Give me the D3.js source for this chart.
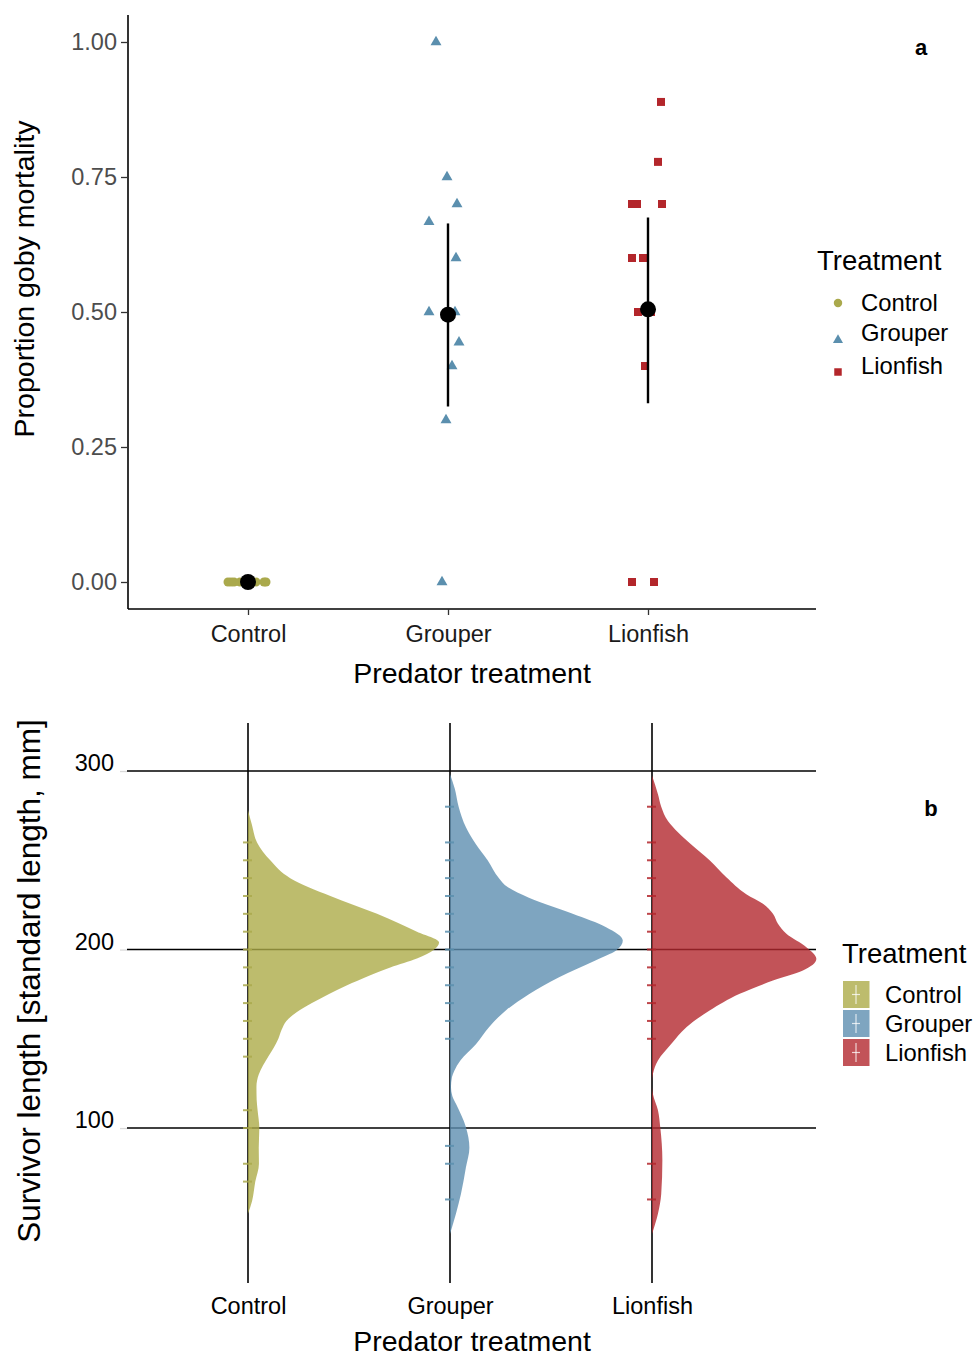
<!DOCTYPE html>
<html><head><meta charset="utf-8">
<script src="https://cdn.jsdelivr.net/npm/d3@7"></script>
<style>body{margin:0;background:#fff;} text{font-family:"Liberation Sans",Arial,Helvetica,sans-serif;}</style>
</head><body><svg id="c" width="976" height="1356"></svg>
<script>
// ---------- data ----------
const categories = ["Control", "Grouper", "Lionfish"];
const pointColors = ["#aaa94c", "#5b8fae", "#b3262b"];
const fillColors = ["#adab48", "#5e8fb0", "#b3282e"];
const mortalityTicks = [0, 0.25, 0.5, 0.75, 1];
const lengthTicks = [100, 200, 300];

const controlMortality = [0, 0, 0, 0, 0, 0, 0, 0];
const controlJitter = [-0.10, -0.085, -0.07, -0.04, 0.02, 0.04, 0.08, 0.09];
const grouperMortality = [1.00, 0.75, 0.70, 0.667, 0.60, 0.50, 0.50, 0.444, 0.40, 0.30, 0];
const grouperJitter = [-0.06, -0.005, 0.045, -0.095, 0.04, -0.095, 0.035, 0.055, 0.02, -0.01, -0.03];
const lionfishMortality = [0.889, 0.778, 0.70, 0.70, 0.70, 0.60, 0.60, 0.50, 0.50, 0.40, 0, 0];
const lionfishJitter = [0.065, 0.05, -0.08, -0.055, 0.07, -0.08, -0.025, -0.05, 0.015, -0.015, -0.08, 0.03];
const meanMortality = [0, 0.495, 0.505];
const seLow = [0, 0.325, 0.331];
const seHigh = [0, 0.664, 0.675];

const controlLengths = [260, 250, 240, 230, 220, 210, 200, 190, 180, 170, 160, 150, 140, 110, 100, 80, 70];
const grouperLengths = [280, 260, 250, 240, 230, 220, 210, 200, 190, 180, 170, 160, 150, 90, 80, 60];
const lionfishLengths = [280, 260, 250, 240, 230, 220, 210, 200, 190, 180, 170, 160, 150, 80, 60];

// [length, relative density]
const controlDensity = [[278,0],[270,0.02],[260,0.047],[250,0.116],[240,0.220],[230,0.429],[220,0.672],[210,0.880],[204,0.995],[200,0.970],[195,0.880],[190,0.741],[180,0.516],[170,0.333],[165,0.255],[160,0.200],[155,0.175],[150,0.158],[145,0.134],[140,0.105],[135,0.078],[130,0.056],[123,0.044],[116,0.045],[110,0.050],[100,0.059],[89,0.056],[80,0.057],[70,0.038],[59,0.021],[52,0]];
const grouperDensity = [[298.4,0],[290,0.025],[280,0.045],[268.5,0.083],[259,0.135],[250,0.196],[240,0.255],[235,0.300],[229,0.411],[220,0.639],[212.5,0.813],[205,0.900],[199.4,0.865],[194,0.760],[184.5,0.568],[175,0.411],[166,0.292],[156.5,0.203],[147,0.135],[138,0.055],[132,0.022],[128.5,0.010],[123,0.005],[118,0.012],[113.6,0.031],[100.5,0.083],[89,0.101],[78,0.083],[63,0.057],[52,0.031],[40.7,0]];
const lionfishDensity = [[297.5,0],[287,0.031],[280,0.048],[272,0.083],[265.7,0.135],[259,0.203],[250,0.300],[240.5,0.387],[231,0.491],[225.6,0.578],[220,0.630],[214.4,0.656],[208.8,0.700],[201.3,0.804],[194.8,0.856],[188.2,0.786],[182.6,0.630],[175.2,0.457],[165.8,0.300],[156.5,0.179],[147.2,0.101],[137.8,0.031],[130.4,0.005],[126,0],[123,0],[119,0.005],[110,0.031],[100.5,0.043],[82,0.054],[63,0.048],[52,0.031],[40.7,0]];

const mortality = [controlMortality, grouperMortality, lionfishMortality];
const jitters = [controlJitter, grouperJitter, lionfishJitter];
const lengths = [controlLengths, grouperLengths, lionfishLengths];
const densities = [controlDensity, grouperDensity, lionfishDensity];
const symbolTypes = [d3.symbolCircle, d3.symbolTriangle, d3.symbolSquare];
const symbolSizes = [64, 52, 64];

const svg = d3.select("#c");
svg.append("rect").attr("width", 976).attr("height", 1356).attr("fill", "#fff");

// ---------- panel a ----------
const xTop = d3.scalePoint().domain(categories).range([248, 648]);
const yTop = d3.scaleLinear().domain([-0.05, 1.05]).range([609, 15]);
const gA = svg.append("g");

const yAxA = gA.append("g").attr("transform", "translate(128,0)")
  .call(d3.axisLeft(yTop).tickValues(mortalityTicks).tickFormat(d3.format(".2f")).tickSize(7).tickPadding(4));
yAxA.select(".domain").attr("d", "M0,15V609").attr("stroke", "#000").attr("stroke-width", 1.6);
yAxA.selectAll(".tick line").attr("stroke", "#333").attr("stroke-width", 1.3);
yAxA.selectAll(".tick text").attr("font-size", 23.5).attr("fill", "#4d4d4d").style("font-family", "Liberation Sans, Arial, sans-serif");

const xAxA = gA.append("g").attr("transform", "translate(0,609)")
  .call(d3.axisBottom(xTop).tickSize(6).tickPadding(10));
xAxA.select(".domain").attr("d", "M128,0H816").attr("stroke", "#000").attr("stroke-width", 1.6);
xAxA.selectAll(".tick line").attr("stroke", "#333").attr("stroke-width", 1.3);
xAxA.selectAll(".tick text").attr("font-size", 23.5).attr("fill", "#1a1a1a").style("font-family", "Liberation Sans, Arial, sans-serif");

categories.forEach((c, i) => {
  mortality[i].forEach((v, j) => {
    gA.append("path")
      .attr("d", d3.symbol().type(symbolTypes[i]).size(symbolSizes[i])())
      .attr("transform", `translate(${xTop(c) + jitters[i][j] * xTop.step()},${yTop(v)})`)
      .attr("fill", pointColors[i]);
  });
});
categories.forEach((c, i) => {
  if (seHigh[i] > seLow[i]) {
    gA.append("line").attr("x1", xTop(c)).attr("x2", xTop(c))
      .attr("y1", yTop(seLow[i])).attr("y2", yTop(seHigh[i]))
      .attr("stroke", "#000").attr("stroke-width", 2.4);
  }
  gA.append("circle").attr("cx", xTop(c)).attr("cy", yTop(meanMortality[i])).attr("r", 8).attr("fill", "#000");
});

gA.append("text").attr("x", 472).attr("y", 683).attr("text-anchor", "middle").attr("font-size", 28.5).attr("fill", "#000").text("Predator treatment");
gA.append("text").attr("transform", "translate(34,279) rotate(-90)").attr("text-anchor", "middle").attr("font-size", 28.5).attr("fill", "#000").text("Proportion goby mortality");
gA.append("text").attr("x", 921).attr("y", 55).attr("text-anchor", "middle").attr("font-size", 22).attr("font-weight", "bold").text("a");

// legend a
gA.append("text").attr("x", 817).attr("y", 270).attr("font-size", 27.5).text("Treatment");
const legYsym = [303, 340, 372];
const legYtxt = [303, 333, 366];
categories.forEach((c, i) => {
  gA.append("path")
    .attr("d", d3.symbol().type(symbolTypes[i]).size(i === 1 ? 44 : 56)())
    .attr("transform", `translate(838,${legYsym[i]})`).attr("fill", pointColors[i]);
  gA.append("text").attr("x", 861).attr("y", legYtxt[i]).attr("dy", "0.35em").attr("font-size", 23.8).text(c);
});

// ---------- panel b ----------
const xBot = d3.scalePoint().domain(categories).range([248, 652]);
const yBot = d3.scaleLinear().domain([13.2, 326.9]).range([1283, 723]);
const wScale = d3.scaleLinear().domain([0, 1]).range([0, 192]);
const gB = svg.append("g");

// gridlines
lengthTicks.forEach(t => {
  gB.append("line").attr("x1", 127).attr("x2", 816).attr("y1", yBot(t)).attr("y2", yBot(t))
    .attr("stroke", "#000").attr("stroke-width", 1.6);
});
categories.forEach(c => {
  gB.append("line").attr("x1", xBot(c)).attr("x2", xBot(c)).attr("y1", 723).attr("y2", 1283)
    .attr("stroke", "#000").attr("stroke-width", 1.6);
});

const yAxB = gB.append("g").attr("transform", "translate(127,0)")
  .call(d3.axisLeft(yBot).tickValues(lengthTicks).tickSize(7).tickPadding(6));
yAxB.select(".domain").remove();
yAxB.selectAll(".tick line").attr("stroke", "#d9d9d9").attr("stroke-width", 1.3);
yAxB.selectAll(".tick text").attr("font-size", 23.5).attr("fill", "#000").attr("y", -8).style("font-family", "Liberation Sans, Arial, sans-serif");

const xAxB = gB.append("g").attr("transform", "translate(0,1283)")
  .call(d3.axisBottom(xBot).tickSize(0).tickPadding(14));
xAxB.select(".domain").remove();
xAxB.selectAll(".tick text").attr("font-size", 23.5).attr("fill", "#000").style("font-family", "Liberation Sans, Arial, sans-serif");

// violins
categories.forEach((c, i) => {
  const cx = xBot(c);
  const area = d3.area()
    .y(d => yBot(d[0]))
    .x0(cx)
    .x1(d => cx + wScale(d[1]))
    .curve(d3.curveMonotoneY);
  gB.append("path").datum(densities[i]).attr("d", area)
    .attr("fill", fillColors[i]).attr("fill-opacity", 0.8);
});
// rug
categories.forEach((c, i) => {
  const cx = xBot(c);
  lengths[i].forEach(v => {
    gB.append("line").attr("x1", cx - 5).attr("x2", cx + 4).attr("y1", yBot(v)).attr("y2", yBot(v))
      .attr("stroke", pointColors[i]).attr("stroke-width", 2).attr("stroke-opacity", 0.85);
  });
});

gB.append("text").attr("x", 472).attr("y", 1351).attr("text-anchor", "middle").attr("font-size", 28.5).text("Predator treatment");
gB.append("text").attr("transform", "translate(40,981) rotate(-90)").attr("text-anchor", "middle").attr("font-size", 31.5).text("Survivor length [standard length, mm]");
gB.append("text").attr("x", 931).attr("y", 816).attr("text-anchor", "middle").attr("font-size", 22).attr("font-weight", "bold").text("b");

// legend b
gB.append("text").attr("x", 842).attr("y", 963).attr("font-size", 27.5).text("Treatment");
const legBY = [981, 1010, 1039];
categories.forEach((c, i) => {
  const y0 = legBY[i];
  gB.append("rect").attr("x", 843).attr("y", y0).attr("width", 26.5).attr("height", 27)
    .attr("fill", fillColors[i]).attr("fill-opacity", 0.8);
  gB.append("line").attr("x1", 856).attr("x2", 856).attr("y1", y0 + 4).attr("y2", y0 + 23)
    .attr("stroke", "#fff").attr("stroke-opacity", 0.75).attr("stroke-width", 1.2);
  gB.append("line").attr("x1", 852).attr("x2", 860).attr("y1", y0 + 13.5).attr("y2", y0 + 13.5)
    .attr("stroke", "#fff").attr("stroke-opacity", 0.75).attr("stroke-width", 1.2);
  gB.append("text").attr("x", 885).attr("y", y0 + 14).attr("dy", "0.35em").attr("font-size", 23.8).text(c);
});
</script></body></html>
